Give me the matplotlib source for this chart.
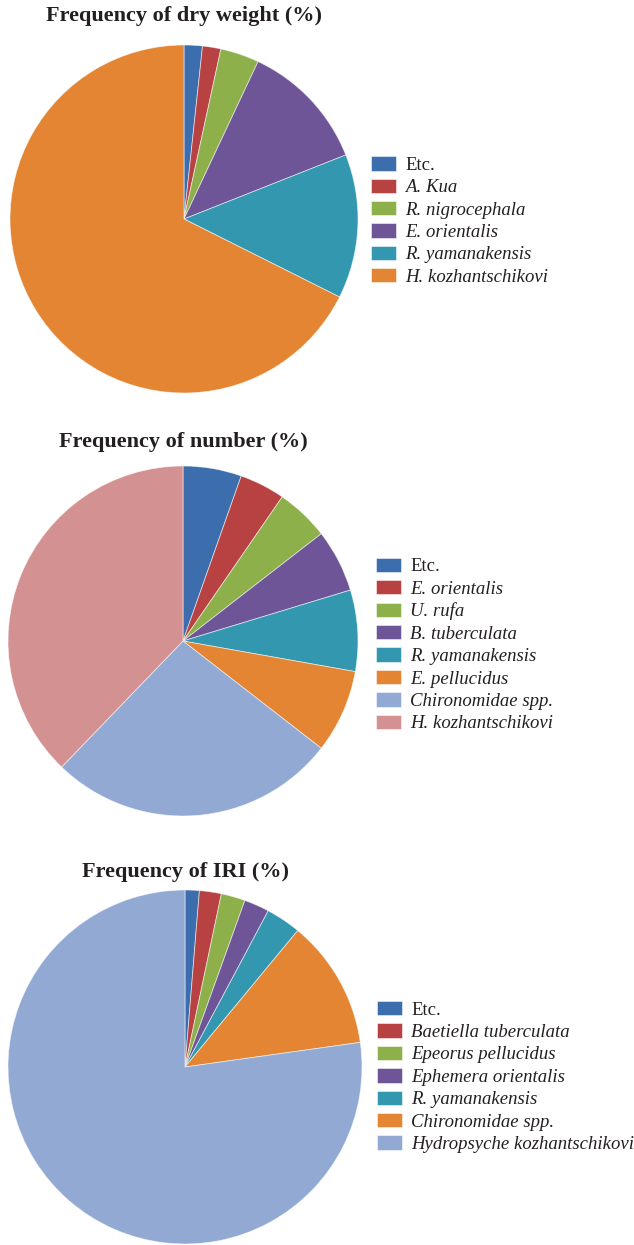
import matplotlib.pyplot as plt

# colour set used by all three pies
azul = '#3C6EAE'
rojo = '#B84141'
verde = '#8DB04A'
morado = '#6D5597'
turquesa = '#3497B0'
naranja = '#E38533'
celeste = '#91A9D3'
rosa = '#D39191'

# --- Frequency of dry weight
nombres_peso = ['Etc.', 'A. Kua', 'R. nigrocephala', 'E. orientalis',
                'R. yamanakensis', 'H. kozhantschikovi']
valores_peso = [1.7, 1.7, 3.6, 12.0, 13.4, 67.6]
colores_peso = [azul, rojo, verde, morado, turquesa, naranja]

# --- Frequency of number
nombres_num = ['Etc.', 'E. orientalis', 'U. rufa', 'B. tuberculata',
               'R. yamanakensis', 'E. pellucidus', 'Chironomidae spp.',
               'H. kozhantschikovi']
valores_num = [5.4, 4.2, 4.9, 5.8, 7.5, 7.7, 26.7, 37.8]
colores_num = [azul, rojo, verde, morado, turquesa, naranja, celeste, rosa]

# --- Frequency of IRI
nombres_iri = ['Etc.', 'Baetiella tuberculata', 'Epeorus pellucidus',
               'Ephemera orientalis', 'R. yamanakensis', 'Chironomidae spp.',
               'Hydropsyche kozhantschikovi']
valores_iri = [1.3, 2.0, 2.2, 2.3, 3.2, 11.8, 77.3]
colores_iri = [azul, rojo, verde, morado, turquesa, naranja, celeste]

W, H = 634, 1245
fig = plt.figure(figsize=(W / 100, H / 100), dpi=100)
plt.rcParams['font.family'] = ['Liberation Serif', 'DejaVu Serif']


def graficarPie(titulo, nombres, valores, colores, cx, cy, r, ty, lx, ly):
    # ejes cuadrados en pixeles, centrados en (cx, cy)
    ax = fig.add_axes([(cx - r) / W, (H - cy - r) / H, 2 * r / W, 2 * r / H])
    cunas, _ = ax.pie(valores, colors=colores, startangle=90, counterclock=False,
                      radius=1, wedgeprops=dict(edgecolor=(1, 1, 1, 0.6), linewidth=0.6))
    ax.set_xlim(-1, 1)
    ax.set_ylim(-1, 1)
    ax.set_aspect('equal')
    ax.axis('off')

    fig.text(cx / W, 1 - ty / H, titulo, ha='center', va='center',
             fontsize=16, fontweight='bold', color='#231F20')

    leg = fig.legend(cunas, nombres, loc='center left',
                     bbox_to_anchor=(lx / W, 1 - ly / H), frameon=False,
                     fontsize=13.5, handlelength=1.33, handleheight=0.8,
                     handletextpad=0.5, labelspacing=0.25, borderpad=0,
                     borderaxespad=0)
    for t in leg.get_texts():
        t.set_color('#231F20')
        if t.get_text() != 'Etc.':
            t.set_fontstyle('italic')
    return ax


graficarPie('Frequency of dry weight (%)', nombres_peso, valores_peso, colores_peso,
            184, 219, 174, 16, 371, 221)
graficarPie('Frequency of number (%)', nombres_num, valores_num, colores_num,
            183, 641, 175, 442, 376, 645)
graficarPie('Frequency of IRI (%)', nombres_iri, valores_iri, colores_iri,
            185, 1067, 177, 872, 377, 1077)

fig.savefig('out.png', dpi=100, facecolor='white')
